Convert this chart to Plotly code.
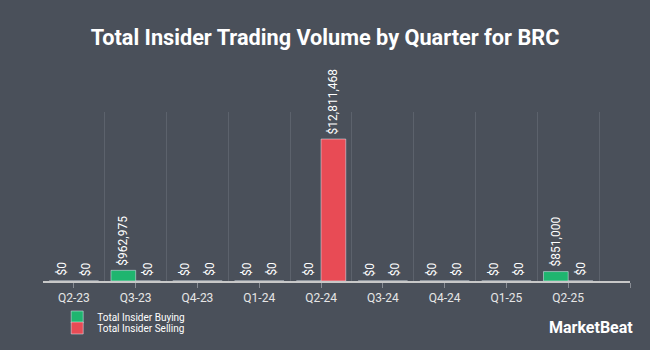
import plotly.graph_objects as go

quarters = ["Q2-23", "Q3-23", "Q4-23", "Q1-24", "Q2-24", "Q3-24", "Q4-24", "Q1-25", "Q2-25"]
buying = [0, 962975, 0, 0, 0, 0, 0, 0, 851000]
selling = [0, 0, 0, 0, 12811468, 0, 0, 0, 0]

BG = "#4a505a"
GREEN = "#1fb56f"
RED = "#e84b55"
BAR_W = 0.4

xpos = list(range(len(quarters)))

def fmt(v):
    return "${:,.0f}".format(v)

fig = go.Figure()
fig.add_trace(go.Bar(
    x=xpos, y=buying, name="Total Insider Buying", marker_color=GREEN,
    width=BAR_W, offset=-BAR_W, legend="legend",
))
fig.add_trace(go.Bar(
    x=xpos, y=selling, name="Total Insider Selling", marker_color=RED,
    width=BAR_W, offset=0.0, legend="legend2",
))
# invisible trace to drive gridline axis
fig.add_trace(go.Scatter(x=[-0.5], y=[0], xaxis="x2", showlegend=False,
                         mode="markers", marker=dict(opacity=0), hoverinfo="skip"))

annotations = []
for i, v in enumerate(buying):
    annotations.append(dict(x=i - BAR_W / 2, y=v, xref="x", yref="y", text=fmt(v),
                            textangle=-90, xanchor="center", yanchor="bottom",
                            yshift=3, showarrow=False,
                            font=dict(family="Roboto", size=12, color="#ffffff")))
for i, v in enumerate(selling):
    annotations.append(dict(x=i + BAR_W / 2, y=v, xref="x", yref="y", text=fmt(v),
                            textangle=-90, xanchor="center", yanchor="bottom",
                            yshift=3, showarrow=False,
                            font=dict(family="Roboto", size=12, color="#ffffff")))
annotations.append(dict(text="<b>MarketBeat</b>", x=1.0085, xref="paper", xanchor="right",
                        y=-0.278, yref="paper", yanchor="middle", showarrow=False,
                        font=dict(family="Roboto", size=16, color="#ffffff")))

leg_common = dict(xref="container", yref="container", xanchor="left", yanchor="middle",
                  bgcolor="rgba(0,0,0,0)", font=dict(family="Roboto", size=10, color="#ffffff"),
                  itemwidth=30)

fig.update_layout(
    width=650, height=350,
    paper_bgcolor=BG, plot_bgcolor=BG,
    margin=dict(l=43, r=20, t=112, b=69, autoexpand=False),
    title=dict(text="<b>Total Insider Trading Volume by Quarter for BRC</b>",
               x=0.5, xanchor="center", y=1 - 37 / 350, yanchor="middle",
               font=dict(family="Roboto", size=21.7, color="#ffffff")),
    barmode="overlay",
    showlegend=True,
    legend=dict(x=0.088, y=1 - 317 / 350, **leg_common),
    legend2=dict(x=0.088, y=1 - 328 / 350, **leg_common),
    xaxis=dict(range=[-0.5, 9.0], tickvals=list(range(10)),
               ticktext=quarters + [""], showgrid=False,
               showline=True, linecolor="#c8c8c8", linewidth=1.5,
               ticks="outside", ticklen=5, tickcolor="#888c94",
               tickfont=dict(family="Roboto", size=12, color="#e6e6e6"),
               zeroline=False),
    xaxis2=dict(range=[-0.5, 9.0], overlaying="x", tickvals=[i - 0.5 for i in range(10)],
                showgrid=True, gridcolor="#5c626c", gridwidth=1,
                showticklabels=False, ticks="", showline=False, zeroline=False),
    yaxis=dict(range=[0, 15250000], showgrid=False, showticklabels=False,
               zeroline=False, showline=False),
    annotations=annotations,
)

fig.write_html("out.html")
